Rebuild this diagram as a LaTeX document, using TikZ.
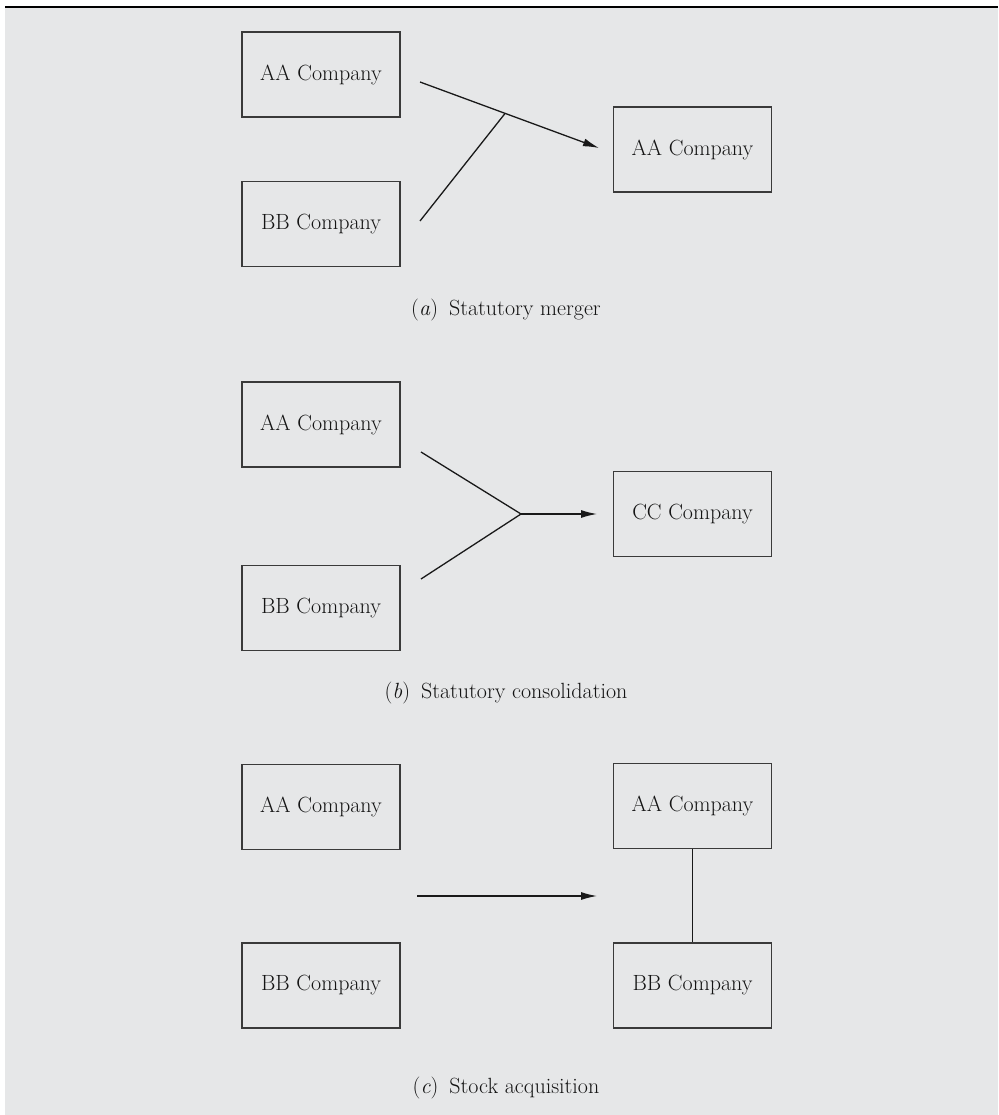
\documentclass[tikz,border=0pt]{standalone}
\usetikzlibrary{arrows.meta}
\definecolor{panel}{HTML}{E6E7E8}
\definecolor{edge}{HTML}{3A3A3A}
\tikzset{
  company/.style={draw=edge, line width=1.5pt, minimum width=158pt, minimum height=85pt,
    inner sep=0pt, font=\fontsize{22}{26}\selectfont, text=black!92},
  link/.style={line width=1.3pt, draw=black!90},
  tip/.style={-{Latex[length=16pt,width=8pt]}},
  caption/.style={font=\fontsize{22}{26}\selectfont, text=black!92}
}
\begin{document}
\begin{tikzpicture}[x=1pt,y=-1pt]
  \useasboundingbox (0,0) rectangle (998,1115);
  \fill[panel] (5,8) rectangle (998,1115);
  \draw[line width=2.2pt] (5,7) -- (998,7);

  % (a) statutory merger
  \node[company] (a1) at (321,74.5) {AA Company};
  \node[company] (b1) at (321,224) {BB Company};
  \node[company] (r1) at (692.5,149.5) {AA Company};
  \coordinate (a1s) at (420,82);
  \coordinate (a1e) at (599,148);
  \coordinate (b1s) at (420,221);
  \coordinate (j1) at (505,113.5);
  \draw[link,tip] (a1s) -- (a1e);
  \draw[link] (b1s) -- (j1);
  \node[caption] (c1) at (506,310) {(\textit{a})\enspace Statutory merger};

  % (b) statutory consolidation
  \node[company] (a2) at (321,424.5) {AA Company};
  \node[company] (b2) at (321,608) {BB Company};
  \node[company] (r2) at (692.5,514) {CC Company};
  \coordinate (a2s) at (421,452);
  \coordinate (b2s) at (421,579);
  \coordinate (j2) at (521,514);
  \coordinate (e2) at (597,514);
  \draw[link] (a2s) -- (j2) -- (b2s);
  \draw[link,tip] (j2) -- (e2);
  \node[caption] (c2) at (506,693) {(\textit{b})\enspace Statutory consolidation};

  % (c) stock acquisition
  \node[company] (a3) at (321,807) {AA Company};
  \node[company] (b3) at (321,985.5) {BB Company};
  \node[company] (r3) at (692.5,806) {AA Company};
  \node[company] (s3) at (692.5,985.5) {BB Company};
  \coordinate (m3s) at (417,896);
  \coordinate (m3e) at (597,896);
  \draw[link,tip] (m3s) -- (m3e);
  \draw[link] (r3.south) -- (s3.north);
  \node[caption] (c3) at (506,1088) {(\textit{c})\enspace Stock acquisition};
\end{tikzpicture}
\end{document}
